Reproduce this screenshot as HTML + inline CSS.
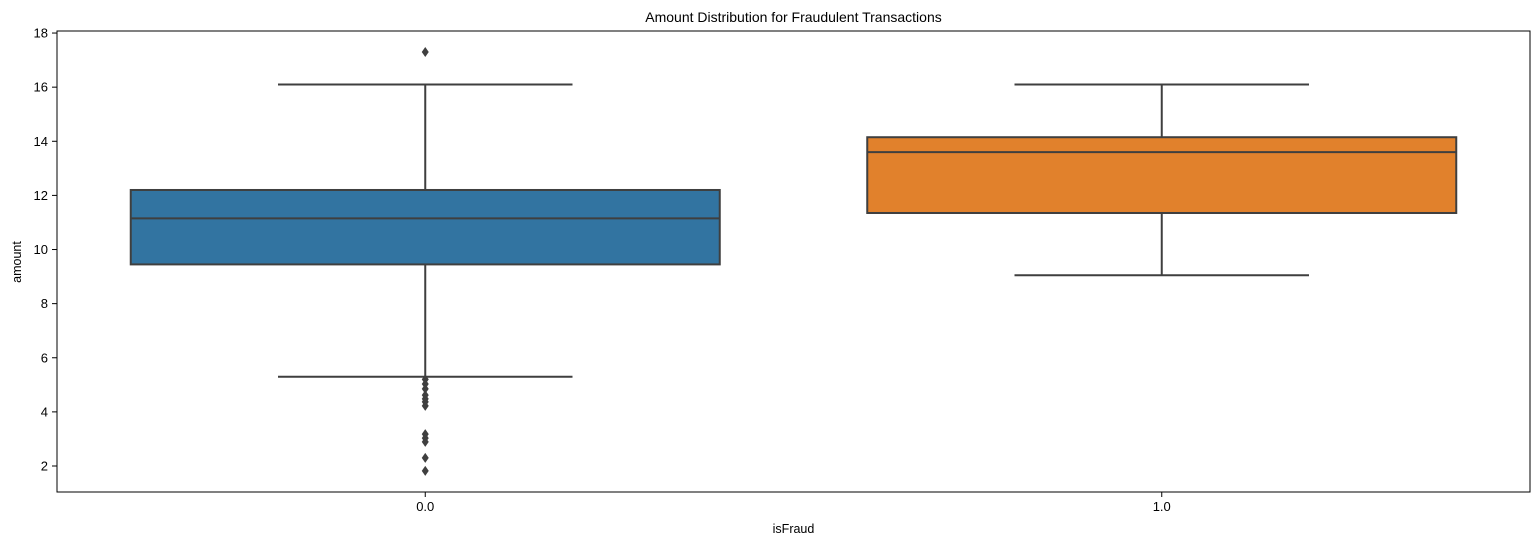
<!DOCTYPE html>
<html><head><meta charset="utf-8"><style>
body{margin:0;background:#fff;font-family:"Liberation Sans",sans-serif;}
svg text{font-family:"Liberation Sans",sans-serif;fill:#000;}
</style></head><body>
<svg id="c" width="1539" height="545"></svg>
<script>
const categories=["0.0","1.0"];
const q1=[9.45,11.35];
const medians=[11.15,13.6];
const q3=[12.2,14.15];
const whiskLo=[5.3,9.05];
const whiskHi=[16.1,16.1];
const outliers0=[17.3,5.2,5.03,4.85,4.62,4.48,4.37,4.22,3.18,3.03,2.89,2.3,1.82];
const outliers1=[];
const yTicks=[2,4,6,8,10,12,14,16,18];
const colors=["#3274a1","#e1812c"];
const L=57,R=1530,T=31,B=492;
const y=v=>466-(v-2)*27.06;
const x=i=>L+(i+0.5)/2*(R-L);
const ns="http://www.w3.org/2000/svg";
const svg=document.getElementById('c');
function mk(t,a,p){const e=document.createElementNS(ns,t);for(const k in a)e.setAttribute(k,a[k]);(p||svg).appendChild(e);return e;}
const g=mk('g',{});


const col="#3f3f3f";
const bw=589;
const outs=[outliers0,outliers1];
categories.forEach((c,i)=>{
  const cx=x(i);
  const grp=mk('g',{},g);
  
  
  mk('line',{x1:cx,x2:cx,y1:y(whiskHi[i]),y2:y(q3[i]),stroke:col,'stroke-width':2},grp);
  mk('line',{x1:cx,x2:cx,y1:y(q1[i]),y2:y(whiskLo[i]),stroke:col,'stroke-width':2},grp);
  mk('line',{x1:cx-bw/4,x2:cx+bw/4,y1:y(whiskHi[i]),y2:y(whiskHi[i]),stroke:col,'stroke-width':2},grp);
  mk('line',{x1:cx-bw/4,x2:cx+bw/4,y1:y(whiskLo[i]),y2:y(whiskLo[i]),stroke:col,'stroke-width':2},grp);
  mk('rect',{x:cx-bw/2,y:y(q3[i]),width:bw,height:y(q1[i])-y(q3[i]),fill:colors[i],stroke:col,'stroke-width':2},grp);
  mk('line',{x1:cx-bw/2,x2:cx+bw/2,y1:y(medians[i]),y2:y(medians[i]),stroke:col,'stroke-width':2},grp);
  outs[i].forEach(v=>{
    const yy=y(v);
    const p=mk('polygon',{points:`${cx},${yy-5} ${cx+3.5},${yy} ${cx},${yy+5} ${cx-3.5},${yy}`,fill:col},grp);
    
    
  });
  mk('line',{x1:cx,x2:cx,y1:B,y2:B+5,stroke:'#000'});
  const t=mk('text',{x:cx,y:B+19,'text-anchor':'middle','font-size':13});
  t.textContent=c;
  
  
});
yTicks.forEach(v=>{
  mk('line',{x1:L-5,x2:L,y1:y(v),y2:y(v),stroke:'#000'});
  const t=mk('text',{x:L-9,y:y(v)+4.5,'text-anchor':'end','font-size':13});
  t.textContent=v;
  
  
});
const fr=mk('rect',{x:L,y:T,width:R-L,height:B-T,fill:'none',stroke:'#000','stroke-width':1});


const ti=mk('text',{x:(L+R)/2,y:22,'text-anchor':'middle','font-size':14});
ti.textContent='Amount Distribution for Fraudulent Transactions';


const xl=mk('text',{x:(L+R)/2,y:533,'text-anchor':'middle','font-size':12.5});
xl.textContent='isFraud';


const yl=mk('text',{x:21,y:262,'text-anchor':'middle','font-size':12.5,transform:'rotate(-90 21 262)'});
yl.textContent='amount';


</script>
</body></html>
